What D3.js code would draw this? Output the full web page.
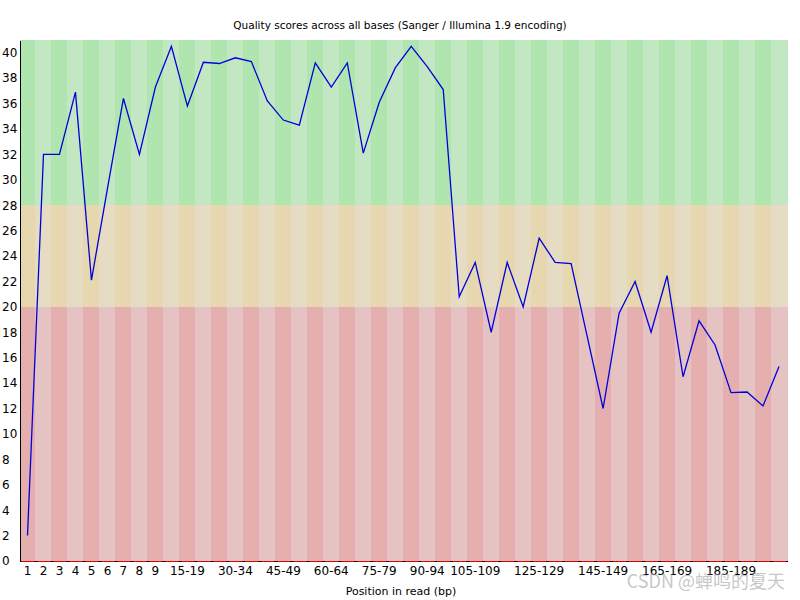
<!DOCTYPE html>
<html>
<head>
<meta charset="utf-8">
<script src="https://cdn.jsdelivr.net/npm/d3@7"></script>
<style>
  html, body { margin: 0; padding: 0; background: #fff; }
  svg { display: block; }
  text { font-family: "DejaVu Sans", sans-serif; fill: #000; }
</style>
</head>
<body>
<svg id="chart" width="800" height="600"></svg>
<script>
// ---- data ----
const categories = ["1","2","3","4","5","6","7","8","9",
  "10-14","15-19","20-24","25-29","30-34","35-39","40-44","45-49","50-54","55-59",
  "60-64","65-69","70-74","75-79","80-84","85-89","90-94","95-99","100-104",
  "105-109","110-114","115-119","120-124","125-129","130-134","135-139","140-144",
  "145-149","150-154","155-159","160-164","165-169","170-174","175-179","180-184",
  "185-189","190-194","195-199","200-204"];
const meanQuality = [2.0, 32.0, 32.0, 36.9, 22.1, 29.3, 36.4, 32.0, 37.3, 40.5,
  35.8, 39.25, 39.15, 39.6, 39.3, 36.2, 34.7, 34.3, 39.2, 37.3,
  39.2, 32.1, 36.1, 38.8, 40.5, 38.9, 37.1, 20.8, 23.5, 18.0,
  23.5, 20.0, 25.4, 23.5, 23.4, 17.7, 12.0, 19.5, 22.0, 18.0,
  22.45, 14.5, 18.9, 17.0, 13.25, 13.3, 12.2, 15.3];
const xTickLabels = ["1","2","3","4","5","6","7","8","9","15-19","30-34","45-49",
  "60-64","75-79","90-94","105-109","125-129","145-149","165-169","185-189"];
const yTickValues = [0,2,4,6,8,10,12,14,16,18,20,22,24,26,28,30,32,34,36,38,40];
const zones = [
  {name: "bad",  from: 0,  to: 20, dark: "rgb(230,175,175)", light: "rgb(230,195,195)"},
  {name: "warn", from: 20, to: 28, dark: "rgb(230,215,175)", light: "rgb(230,220,195)"},
  {name: "good", from: 28, to: 41, dark: "rgb(175,230,175)", light: "rgb(195,230,195)"}
];
const title = "Quality scores across all bases (Sanger / Illumina 1.9 encoding)";
const xTitle = "Position in read (bp)";

// ---- layout ----
const svg = d3.select("#chart");
const plotLeft = 19.5, plotRight = 787, plotTop = 40, plotBottom = 561;

const x = d3.scaleBand().domain(categories).range([plotLeft, plotRight]).paddingInner(0).paddingOuter(0);
const y = d3.scaleLinear().domain([0, 41]).range([plotBottom, plotTop]);

// background bands
const bg = svg.append("g");
zones.forEach(z => {
  bg.selectAll(null).data(categories).enter().append("rect")
    .attr("x", d => x(d))
    .attr("width", x.bandwidth() + 0.5)
    .attr("y", y(z.to))
    .attr("height", y(z.from) - y(z.to))
    .attr("fill", (d, i) => i % 2 === 0 ? z.dark : z.light)
    .attr("shape-rendering", "crispEdges");
});

// title
svg.append("text").attr("x", 400).attr("y", 29)
  .attr("text-anchor", "middle").style("font-size", "10.5px").text(title);

// y axis
const yAxis = svg.append("g").attr("transform", `translate(${plotLeft},0)`)
  .call(d3.axisLeft(y).tickValues(yTickValues).tickSize(0).tickPadding(0));
yAxis.select(".domain").attr("stroke", "#000").attr("shape-rendering", "crispEdges");
yAxis.selectAll("text").attr("x", 2 - plotLeft).attr("text-anchor", "start")
  .style("font-family", "DejaVu Sans, sans-serif").style("font-size", "12px");

// x axis
const xAxis = svg.append("g").attr("transform", `translate(0,${plotBottom})`)
  .call(d3.axisBottom(x).tickValues(xTickLabels).tickSize(0).tickPadding(5));
xAxis.select(".domain").attr("stroke", "#000").attr("shape-rendering", "crispEdges");
xAxis.selectAll("text").attr("dy", "0.71em")
  .style("font-family", "DejaVu Sans, sans-serif").style("font-size", "12px");
// red segments along the bottom axis
svg.append("g").selectAll("line").data(categories).enter().append("line")
  .attr("x1", d => x(d) + 2).attr("x2", d => x(d) + x.bandwidth() - 1)
  .attr("y1", plotBottom + 0.5).attr("y2", plotBottom + 0.5)
  .attr("stroke", "rgb(220,0,0)").attr("stroke-width", 1);

// x title
svg.append("text").attr("x", 401).attr("y", 595)
  .attr("text-anchor", "middle").style("font-size", "11px").text(xTitle);

// mean line
const line = d3.line()
  .x((d, i) => x(categories[i]) + x.bandwidth() / 2)
  .y(d => y(d));
svg.append("path").datum(meanQuality)
  .attr("d", line).attr("fill", "none")
  .attr("stroke", "rgb(0,0,220)").attr("stroke-width", 1.3);

// watermark
svg.append("text").attr("x", 785).attr("y", 588).attr("text-anchor", "end")
  .style("font-family", "Noto Sans CJK SC, sans-serif").style("font-size", "18px")
  .style("fill", "rgba(150,150,150,0.55)").text("CSDN @蝉鸣的夏天");
</script>
</body>
</html>
